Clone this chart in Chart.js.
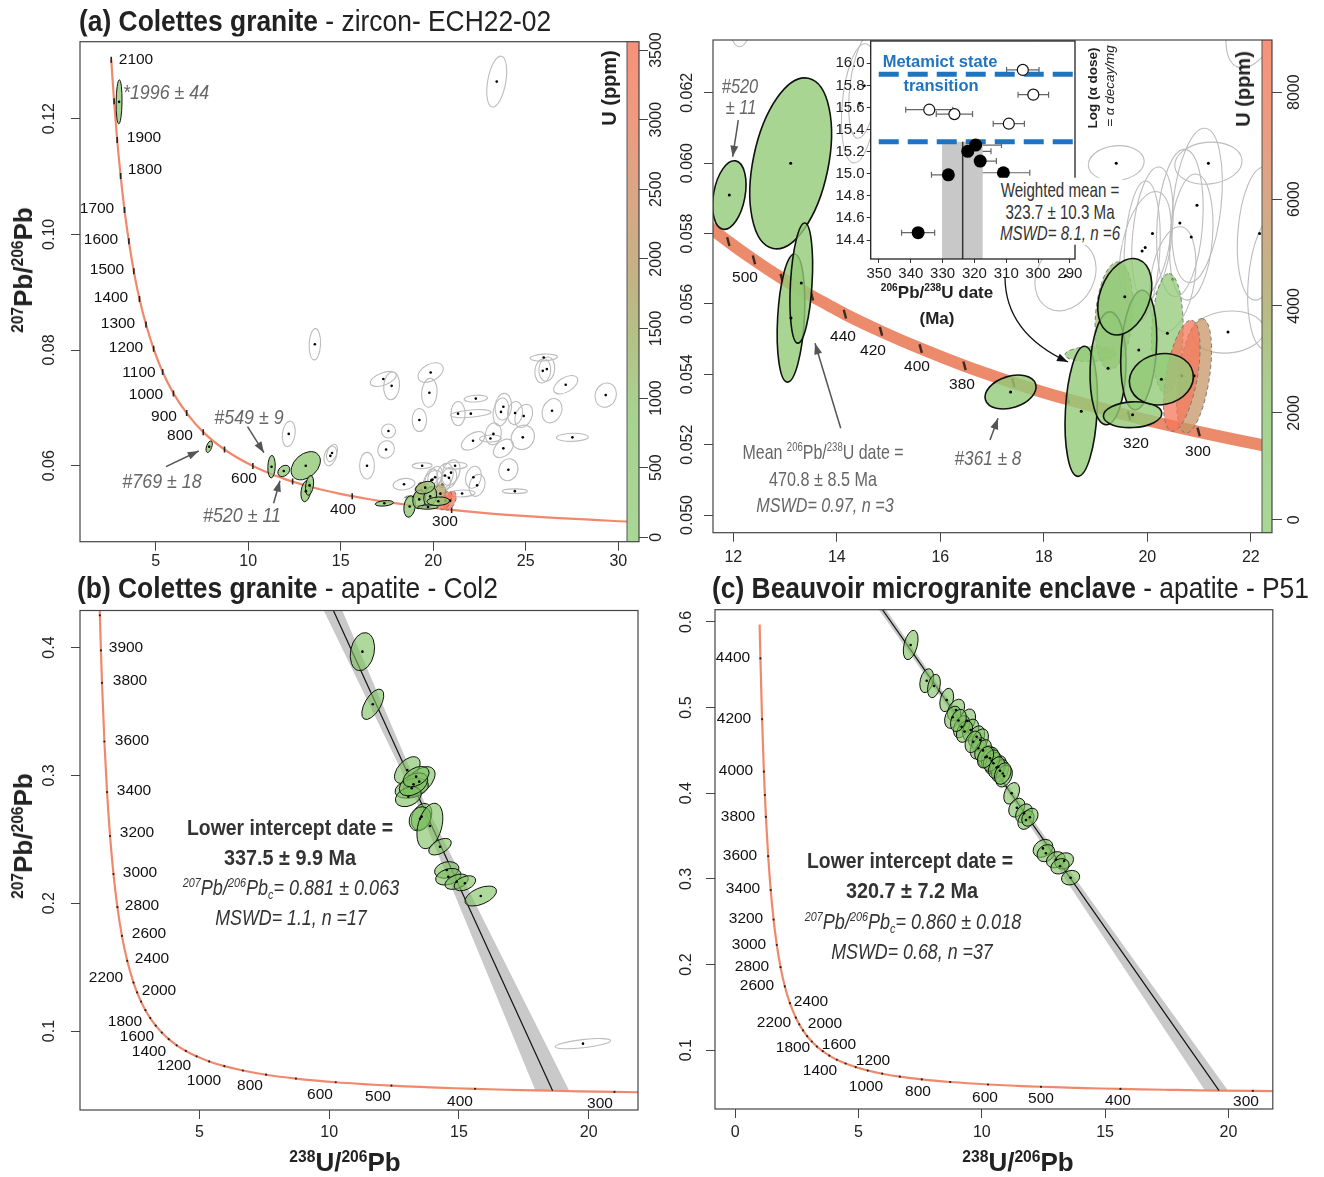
<!DOCTYPE html>
<html>
<head>
<meta charset="utf-8">
<title>U-Pb Tera-Wasserburg diagrams</title>
<script src="https://cdn.jsdelivr.net/npm/chart.js@4.4.1/dist/chart.umd.min.js"></script>
<style>
  body { margin: 0; background: #fff; }
  #page { position: relative; width: 1324px; height: 1177px; overflow: hidden; background: #fff;
          font-family: "Liberation Sans", Arial, sans-serif; color: #1a1a1a; }
  canvas { position: absolute; left: 0; top: 0; }
  .t { position: absolute; white-space: nowrap; line-height: 1; transform: translate(-50%, -50%); }
  .lt { transform: translate(0, -50%); }
  .rot { transform: translate(-50%, -50%) rotate(-90deg); }
  /* condensed look: Liberation Sans squeezed horizontally */
  .t.narrow { transform: translate(-50%, -50%) scaleX(var(--k, 0.85)); }
  .t.lt.narrow { transform-origin: 0 50%; transform: translate(0, -50%) scaleX(var(--k, 0.85)); }
  .title { font-size: 29px; color: #222; --k: 0.91; }
  .age { font-size: 15.5px; color: #111; }
  .note { font-size: 21px; color: #666; }
  .it { font-style: italic; }
  .axt { font-size: 26px; font-weight: bold; color: #222; }
  .cbt { font-size: 20px; font-weight: bold; color: #222; }
  .li { font-size: 22px; color: #333; }
  .wm { font-size: 21px; color: #333; background: #fff; line-height: 21.5px; text-align: center; padding: 1px 3px; --k: 0.72; }
  .meta { font-size: 16.5px; font-weight: bold; color: #1f74c2; }
  .ilab { font-size: 17px; font-weight: bold; color: #222; }
  .dose { font-size: 13.5px; color: #222; }
  sup { font-size: 0.6em; vertical-align: 0.6em; line-height: 0; }
  sub { font-size: 0.6em; vertical-align: -0.3em; line-height: 0; }
</style>
</head>
<body>
<div id="page">
<canvas id="cA" width="1324" height="1177"></canvas>
<canvas id="cZ" width="1324" height="1177"></canvas>
<canvas id="cB" width="1324" height="1177"></canvas>
<canvas id="cC" width="1324" height="1177"></canvas>
<canvas id="cI" width="1324" height="1177"></canvas>

<!-- panel titles -->
<div class="t lt narrow title" style="left:79px;top:21px"><b>(a) Colettes granite</b> - zircon- ECH22-02</div>
<div class="t lt narrow title" style="left:77px;top:588px"><b>(b) Colettes granite</b> - apatite - Col2</div>
<div class="t lt narrow title" style="left:712px;top:588px"><b>(c) Beauvoir microgranite enclave</b> - apatite - P51</div>

<!-- axis titles -->
<div class="t rot axt" style="left:23px;top:270px"><sup>207</sup>Pb/<sup>206</sup>Pb</div>
<div class="t rot axt" style="left:23px;top:836px"><sup>207</sup>Pb/<sup>206</sup>Pb</div>
<div class="t axt" style="left:345px;top:1162px"><sup>238</sup>U/<sup>206</sup>Pb</div>
<div class="t axt" style="left:1018px;top:1162px"><sup>238</sup>U/<sup>206</sup>Pb</div>
<div class="t rot cbt" style="left:609px;top:88px">U (ppm)</div>
<div class="t rot cbt" style="left:1243px;top:89px">U (ppm)</div>

<!-- concordia ages, panel a -->
<div class="t age" style="left:136px;top:59px">2100</div>
<div class="t age" style="left:144px;top:137px">1900</div>
<div class="t age" style="left:145px;top:169px">1800</div>
<div class="t age" style="left:97px;top:208px">1700</div>
<div class="t age" style="left:101px;top:239px">1600</div>
<div class="t age" style="left:107px;top:269px">1500</div>
<div class="t age" style="left:111px;top:297px">1400</div>
<div class="t age" style="left:118px;top:323px">1300</div>
<div class="t age" style="left:126px;top:347px">1200</div>
<div class="t age" style="left:139px;top:372px">1100</div>
<div class="t age" style="left:146px;top:394px">1000</div>
<div class="t age" style="left:164px;top:416px">900</div>
<div class="t age" style="left:180px;top:435px">800</div>
<div class="t age" style="left:244px;top:478px">600</div>
<div class="t age" style="left:343px;top:509px">400</div>
<div class="t age" style="left:445px;top:521px">300</div>

<!-- panel a notes -->
<div class="t lt narrow note it" style="left:123px;top:91px">*1996 ± 44</div>
<div class="t narrow note it" style="left:162px;top:480px">#769 ± 18</div>
<div class="t narrow note it" style="left:249px;top:416px">#549 ± 9</div>
<div class="t narrow note it" style="left:242px;top:514px">#520 ± 11</div>

<!-- concordia ages, zoom panel -->
<div class="t age" style="left:745px;top:277px">500</div>
<div class="t age" style="left:843px;top:336px">440</div>
<div class="t age" style="left:873px;top:350px">420</div>
<div class="t age" style="left:917px;top:366px">400</div>
<div class="t age" style="left:962px;top:384px">380</div>
<div class="t age" style="left:1136px;top:443px">320</div>
<div class="t age" style="left:1198px;top:451px">300</div>

<!-- zoom panel notes -->
<div class="t narrow note it" style="left:740px;top:85px;--k:0.78">#520</div>
<div class="t narrow note it" style="left:741px;top:106px;--k:0.78">± 11</div>
<div class="t narrow note" style="left:823px;top:451px;--k:0.76">Mean <sup>206</sup>Pb/<sup>238</sup>U date =</div>
<div class="t narrow note" style="left:823px;top:478px;--k:0.77">470.8 ± 8.5 Ma</div>
<div class="t narrow note it" style="left:825px;top:504px;--k:0.77">MSWD= 0.97, n =3</div>
<div class="t narrow note it" style="left:988px;top:457px;--k:0.82">#361 ± 8</div>
<div class="t narrow wm" style="left:1060px;top:211px">Weighted mean =<br>323.7 ± 10.3 Ma<br><i>MSWD= 8.1, n =6</i></div>

<!-- inset labels -->
<div class="t meta" style="left:940px;top:61px">Metamict state</div>
<div class="t meta" style="left:941px;top:85px">transition</div>
<div class="t ilab" style="left:937px;top:292px"><sup>206</sup>Pb/<sup>238</sup>U date</div>
<div class="t ilab" style="left:937px;top:318px">(Ma)</div>
<div class="t rot dose" style="left:1093px;top:88px"><b>Log (α dose)</b></div>
<div class="t rot dose it" style="left:1110px;top:86px">= α decay/mg</div>

<!-- concordia ages, panel b -->
<div class="t age" style="left:126px;top:647px">3900</div>
<div class="t age" style="left:130px;top:680px">3800</div>
<div class="t age" style="left:132px;top:740px">3600</div>
<div class="t age" style="left:134px;top:790px">3400</div>
<div class="t age" style="left:137px;top:832px">3200</div>
<div class="t age" style="left:140px;top:872px">3000</div>
<div class="t age" style="left:142px;top:905px">2800</div>
<div class="t age" style="left:149px;top:933px">2600</div>
<div class="t age" style="left:152px;top:958px">2400</div>
<div class="t age" style="left:106px;top:977px">2200</div>
<div class="t age" style="left:159px;top:990px">2000</div>
<div class="t age" style="left:125px;top:1021px">1800</div>
<div class="t age" style="left:137px;top:1036px">1600</div>
<div class="t age" style="left:149px;top:1051px">1400</div>
<div class="t age" style="left:174px;top:1065px">1200</div>
<div class="t age" style="left:204px;top:1080px">1000</div>
<div class="t age" style="left:250px;top:1085px">800</div>
<div class="t age" style="left:320px;top:1094px">600</div>
<div class="t age" style="left:378px;top:1096px">500</div>
<div class="t age" style="left:460px;top:1101px">400</div>
<div class="t age" style="left:600px;top:1103px">300</div>

<div class="t narrow li" style="left:290px;top:828px;--k:0.88"><b>Lower intercept date =</b></div>
<div class="t narrow li" style="left:290px;top:858px;--k:0.9"><b>337.5 ± 9.9 Ma</b></div>
<div class="t narrow li it" style="left:291px;top:888px;--k:0.82"><sup>207</sup>Pb/<sup>206</sup>Pb<sub>c</sub>= 0.881 ± 0.063</div>
<div class="t narrow li it" style="left:291px;top:918px;--k:0.81">MSWD= 1.1, n =17</div>

<!-- concordia ages, panel c -->
<div class="t age" style="left:733px;top:657px">4400</div>
<div class="t age" style="left:734px;top:718px">4200</div>
<div class="t age" style="left:736px;top:770px">4000</div>
<div class="t age" style="left:738px;top:816px">3800</div>
<div class="t age" style="left:740px;top:855px">3600</div>
<div class="t age" style="left:743px;top:888px">3400</div>
<div class="t age" style="left:746px;top:918px">3200</div>
<div class="t age" style="left:749px;top:944px">3000</div>
<div class="t age" style="left:752px;top:966px">2800</div>
<div class="t age" style="left:757px;top:985px">2600</div>
<div class="t age" style="left:811px;top:1001px">2400</div>
<div class="t age" style="left:774px;top:1022px">2200</div>
<div class="t age" style="left:825px;top:1023px">2000</div>
<div class="t age" style="left:793px;top:1047px">1800</div>
<div class="t age" style="left:839px;top:1044px">1600</div>
<div class="t age" style="left:820px;top:1070px">1400</div>
<div class="t age" style="left:873px;top:1060px">1200</div>
<div class="t age" style="left:866px;top:1086px">1000</div>
<div class="t age" style="left:918px;top:1091px">800</div>
<div class="t age" style="left:985px;top:1097px">600</div>
<div class="t age" style="left:1041px;top:1098px">500</div>
<div class="t age" style="left:1118px;top:1100px">400</div>
<div class="t age" style="left:1246px;top:1101px">300</div>

<div class="t narrow li" style="left:910px;top:861px;--k:0.88"><b>Lower intercept date =</b></div>
<div class="t narrow li" style="left:912px;top:891px;--k:0.9"><b>320.7 ± 7.2 Ma</b></div>
<div class="t narrow li it" style="left:913px;top:922px;--k:0.82"><sup>207</sup>Pb/<sup>206</sup>Pb<sub>c</sub>= 0.860 ± 0.018</div>
<div class="t narrow li it" style="left:912px;top:952px;--k:0.81">MSWD= 0.68, n =37</div>
</div>

<script>
const W = 1324, H = 1177;
const FONT = '"Liberation Sans", Arial, sans-serif';

// Tera-Wasserburg concordia: age (Ma), 238U/206Pb, 207Pb/206Pb
const conAge = [4500, 4400, 4200, 4000, 3900, 3800, 3600, 3400, 3200, 3000, 2800, 2600, 2400, 2200, 2100, 2000, 1900, 1800, 1700, 1600, 1500, 1400, 1300, 1200, 1100, 1000, 900, 800, 700, 600, 540, 520, 500, 480, 460, 450, 440, 420, 400, 380, 360, 350, 340, 320, 300, 280, 250, 200];
const conX = [0.9902, 1.0215, 1.0888, 1.1630, 1.2030, 1.2453, 1.3370, 1.4398, 1.5557, 1.6874, 1.8384, 2.0129, 2.2170, 2.4586, 2.5968, 2.7490, 2.9174, 3.1046, 3.3140, 3.5497, 3.8170, 4.1226, 4.4756, 4.8875, 5.3746, 5.9593, 6.6743, 7.5684, 8.7182, 10.252, 11.445, 11.904, 12.399, 12.936, 13.520, 13.831, 14.157, 14.854, 15.621, 16.469, 17.411, 17.923, 18.464, 19.649, 20.992, 22.527, 25.289, 31.734];
const conY = [0.5970, 0.5574, 0.4865, 0.4252, 0.3978, 0.3723, 0.3265, 0.2869, 0.2525, 0.2228, 0.1969, 0.1744, 0.1549, 0.1379, 0.1302, 0.1230, 0.1163, 0.1101, 0.1042, 0.0988, 0.0936, 0.0888, 0.0844, 0.0802, 0.0762, 0.0725, 0.0691, 0.0658, 0.0628, 0.05993, 0.05830, 0.05777, 0.05725, 0.05673, 0.05622, 0.05597, 0.05571, 0.05522, 0.05473, 0.05424, 0.05376, 0.05352, 0.05329, 0.05282, 0.05236, 0.05190, 0.05123, 0.05013];

// zircon ECH22-02, concordant analyses (half extents, correlation, U ppm)
const zrnX = [3.02, 7.89, 11.26, 11.923, 13.109, 13.115, 13.314, 17.358, 18.724, 19.242, 19.835, 19.565, 19.716, 20.272];
const zrnY = [0.1229, 0.06328, 0.05983, 0.059093, 0.059994, 0.055598, 0.056593, 0.053495, 0.052947, 0.054169, 0.054689, 0.056204, 0.052850, 0.053859];
const zrnSx = [0.16, 0.17, 0.20, 0.323, 0.789, 0.267, 0.219, 0.493, 0.313, 0.348, 0.348, 0.522, 0.564, 0.618];
const zrnSy = [0.0038, 0.0010, 0.00195, 0.00098, 0.002438, 0.001828, 0.001714, 0.000483, 0.001856, 0.00161, 0.001705, 0.001089, 0.000369, 0.000733];
const zrnRho = [0.1, 0.5, 0.1, 0.3, 0.35, 0.25, 0.3, 0.3, 0.2, 0.1, 0.2, 0.3, 0.1, 0.1];
const zrnU = [400, 300, 450, 600, 700, 700, 800, 500, 900, 900, 1000, 1000, 800, 900];

// zircon, analyses left out of the mean (dashed)
const excX = [18.908, 19.358, 20.388, 20.904, 20.666];
const excY = [0.054575, 0.055664, 0.055163, 0.053958, 0.053956];
const excSx = [0.499, 0.367, 0.305, 0.338, 0.354];
const excSy = [0.000213, 0.001535, 0.001705, 0.001634, 0.001586];
const excRho = [0.1, 0.2, 0.1, 0.45, 0.5];
const excU = [1200, 2700, 1800, 5500, 8800];

// zircon, discordant analyses (grey)
const disX = [23.43, 13.60, 12.19, 14.44, 14.53, 16.42, 17.45, 17.58, 17.30, 17.75, 19.86, 19.79, 19.25, 22.30, 21.34, 22.03, 23.66, 23.79, 24.42, 24.89, 26.42, 27.16, 29.32, 25.97, 25.92, 26.14, 27.52, 24.84, 23.79, 23.25, 23.09, 22.15, 24.06, 24.41, 22.17, 22.37, 21.56, 18.42, 19.40, 21.18, 20.96, 20.63, 20.10, 20.85, 19.96, 19.90, 20.49];
const disY = [0.1264, 0.0810, 0.0655, 0.0617, 0.0622, 0.0600, 0.0628, 0.0660, 0.0750, 0.0738, 0.0761, 0.0726, 0.0679, 0.0716, 0.0690, 0.0690, 0.0693, 0.0702, 0.0691, 0.0686, 0.0695, 0.0740, 0.0722, 0.0787, 0.0764, 0.0767, 0.0649, 0.0649, 0.0630, 0.0655, 0.0647, 0.0643, 0.0593, 0.0556, 0.0580, 0.0566, 0.0552, 0.0568, 0.0600, 0.0600, 0.0588, 0.0583, 0.0580, 0.0579, 0.0576, 0.0575, 0.0567];
const disSx = [0.54, 0.31, 0.35, 0.35, 0.30, 0.40, 0.45, 0.38, 0.70, 0.43, 0.68, 0.42, 0.39, 0.63, 0.38, 1.10, 0.43, 0.45, 0.41, 0.48, 0.54, 0.65, 0.58, 0.74, 0.43, 0.43, 0.86, 0.63, 0.54, 0.43, 0.59, 0.63, 0.52, 0.68, 0.43, 0.43, 0.70, 0.59, 0.54, 0.65, 0.49, 0.45, 0.40, 0.42, 0.50, 0.35, 0.45];
const disSy = [0.0044, 0.0027, 0.0022, 0.0017, 0.0015, 0.0023, 0.0015, 0.0012, 0.0013, 0.0024, 0.0017, 0.0025, 0.0020, 0.0006, 0.0021, 0.0007, 0.0024, 0.0023, 0.0020, 0.0020, 0.0021, 0.0016, 0.0021, 0.0006, 0.0021, 0.0021, 0.0007, 0.0021, 0.0016, 0.0019, 0.0006, 0.0016, 0.0019, 0.0004, 0.0019, 0.0019, 0.0006, 0.0010, 0.0005, 0.0006, 0.0022, 0.0021, 0.0019, 0.0018, 0.0016, 0.0020, 0.0015];
const disRho = [0.4, 0.1, 0.2, 0.3, 0.4, 0.0, 0.1, 0.0, 0.5, 0.1, 0.4, 0.1, 0.0, 0.2, 0.0, 0.4, 0.2, 0.1, 0.1, 0.3, 0.2, 0.5, 0.1, 0.2, 0.1, 0.1, 0.1, 0.1, 0.4, 0.1, 0.1, 0.5, 0.1, 0.0, 0.2, 0.2, 0.1, 0.2, 0.1, 0.1, 0.3, 0.2, 0.3, 0.2, 0.4, 0.2, 0.3];

// inset: 206Pb/238U date vs log alpha dose
const wmDate = [304.8, 301.5, 334.2, 326.3, 309.2, 319.6, 322.1, 318.2, 328.2, 310.9, 337.7];
const wmErr = [5.1, 4.8, 7.4, 5.7, 4.9, 8.1, 7.3, 5.1, 5.3, 8.3, 5.2];
const wmDose = [15.94, 15.716, 15.58, 15.54, 15.453, 15.26, 15.203, 15.115, 14.99, 15.009, 14.466];
const wmOpen = [1, 1, 1, 1, 1, 0, 0, 0, 0, 0, 0];
const wmMean = 323.7;
const wmBand = [317.4, 330.2];
const metamictDose = [15.9, 15.29];

// apatite Col2
const colX = [11.28, 11.68, 13.01, 13.47, 13.18, 13.05, 13.25, 13.35, 13.56, 13.50, 13.88, 14.27, 14.53, 14.59, 14.91, 15.23, 15.84];
const colY = [0.3968, 0.3556, 0.3042, 0.2951, 0.2899, 0.2833, 0.2930, 0.2990, 0.2677, 0.2660, 0.2604, 0.2442, 0.2260, 0.2207, 0.2168, 0.2156, 0.2056];
const colSx = [0.47, 0.424, 0.493, 0.609, 0.644, 0.50, 0.55, 0.50, 0.397, 0.42, 0.50, 0.435, 0.47, 0.49, 0.45, 0.416, 0.609];
const colSy = [0.0149, 0.0119, 0.0104, 0.0117, 0.0078, 0.0078, 0.009, 0.008, 0.0104, 0.0095, 0.0178, 0.0065, 0.0065, 0.0065, 0.006, 0.0059, 0.0078];
const colRho = [0.2, 0.6, 0.5, 0.5, 0.3, 0.3, 0.4, 0.4, 0.3, 0.2, 0.35, 0.5, 0.2, 0.3, 0.4, 0.4, 0.5];
const colOutX = [19.78], colOutY = [0.0901], colOutSx = [1.07], colOutSy = [0.004], colOutRho = [0.6];
const colFitX = [0, 18.61], colFitY = [0.881, 0.05323];
const colBandX = [9.05, 13.35, 17.95, 19.25, 13.65, 9.85], colBandY = [0.46, 0.28, 0.0532, 0.0532, 0.28, 0.46];

// apatite P51
const p51X = [7.115, 7.765, 8.06, 8.576, 8.953, 8.82, 9.41, 9.18, 9.55, 9.79, 9.93, 9.86, 10.2, 10.33, 10.47, 10.67, 10.74, 9.30, 9.05, 10.05, 10.40, 10.60, 10.90, 10.15, 11.21, 11.42, 11.71, 11.79, 11.95, 12.48, 12.60, 13.00, 13.34, 13.17, 13.60, 9.65, 10.85];
const p51Y = [0.5731, 0.5314, 0.5252, 0.5089, 0.4972, 0.4887, 0.4847, 0.4777, 0.4738, 0.4660, 0.4622, 0.4525, 0.4427, 0.4408, 0.4350, 0.4310, 0.4263, 0.4720, 0.4850, 0.4500, 0.4380, 0.4300, 0.4200, 0.4420, 0.3999, 0.3831, 0.3766, 0.3688, 0.3720, 0.3356, 0.3300, 0.3223, 0.3210, 0.3147, 0.3014, 0.4600, 0.4230];
const p51Sx = [0.30, 0.28, 0.26, 0.28, 0.35, 0.33, 0.34, 0.33, 0.33, 0.33, 0.34, 0.33, 0.34, 0.35, 0.34, 0.33, 0.35, 0.33, 0.32, 0.34, 0.34, 0.33, 0.34, 0.33, 0.32, 0.33, 0.34, 0.33, 0.33, 0.40, 0.36, 0.38, 0.38, 0.37, 0.37, 0.33, 0.34];
const p51Sy = [0.0172, 0.0140, 0.0137, 0.0137, 0.0126, 0.0130, 0.0137, 0.0130, 0.0128, 0.0128, 0.0130, 0.0126, 0.0130, 0.0128, 0.0126, 0.0126, 0.0130, 0.0126, 0.0130, 0.0126, 0.0126, 0.0126, 0.0128, 0.0126, 0.0126, 0.0110, 0.0110, 0.0110, 0.0105, 0.0105, 0.0100, 0.0095, 0.0095, 0.0090, 0.0085, 0.0126, 0.0126];
const p51Rho = [0.4, 0.3, 0.3, 0.3, 0.35, 0.3, 0.3, 0.35, 0.3, 0.3, 0.35, 0.3, 0.3, 0.3, 0.35, 0.3, 0.3, 0.3, 0.3, 0.35, 0.3, 0.3, 0.3, 0.3, 0.35, 0.3, 0.3, 0.3, 0.3, 0.25, 0.2, 0.2, 0.2, 0.2, 0.15, 0.3, 0.3];
const p51FitX = [0, 19.62], p51FitY = [0.860, 0.0528];
const p51BandX = [4.95, 11.08, 19.05, 19.98, 11.30, 5.25], p51BandY = [0.65, 0.40, 0.0528, 0.0528, 0.40, 0.65];

// tick values
const ticksAx = [5, 10, 15, 20, 25, 30], ticksAy = [0.06, 0.08, 0.10, 0.12], ticksAu = [0, 500, 1000, 1500, 2000, 2500, 3000, 3500];
const ticksZx = [12, 14, 16, 18, 20, 22], ticksZy = [0.050, 0.052, 0.054, 0.056, 0.058, 0.060, 0.062], ticksZu = [0, 2000, 4000, 6000, 8000];
const ticksBx = [5, 10, 15, 20], ticksBy = [0.1, 0.2, 0.3, 0.4];
const ticksCx = [0, 5, 10, 15, 20], ticksCy = [0.1, 0.2, 0.3, 0.4, 0.5, 0.6];
const ticksIx = [290, 300, 310, 320, 330, 340, 350], ticksIy = [14.4, 14.6, 14.8, 15.0, 15.2, 15.4, 15.6, 15.8, 16.0];

// U colour scale, green (low U) to salmon (high U)
const CMAP = [[0, [148, 205, 122]], [0.25, [145, 200, 118]], [0.40, [160, 178, 105]], [0.52, [178, 160, 102]], [0.67, [205, 146, 104]], [0.85, [236, 128, 96]], [1, [246, 118, 88]]];
function cmap(f) {
  f = Math.max(0, Math.min(1, f));
  for (let i = 1; i < CMAP.length; i++) {
    if (f <= CMAP[i][0]) {
      const f0 = CMAP[i - 1][0], c0 = CMAP[i - 1][1], f1 = CMAP[i][0], c1 = CMAP[i][1];
      const k = (f - f0) / (f1 - f0);
      return c0.map((v, j) => Math.round(v + k * (c1[j] - v)));
    }
  }
  return CMAP[CMAP.length - 1][1];
}
function rgba(c, a) { return 'rgba(' + c[0] + ',' + c[1] + ',' + c[2] + ',' + a + ')'; }

function ells(X, Y, SX, SY, R, U) {
  return X.map((x, i) => ({ x: x, y: Y[i], sx: SX[i], sy: SY[i], rho: R[i], u: U ? U[i] : 0 }));
}
function pts(X, Y) { return X.map((x, i) => ({ x: x, y: Y[i] })); }

Chart.defaults.font.family = FONT;
Chart.defaults.color = '#222';

// error ellipses, drawn just before the dataset holding their centres
const ellPlugin = {
  id: 'ell',
  beforeDatasetDraw(chart, args) {
    const ds = chart.data.datasets[args.index];
    if (!ds.ell) return;
    const ctx = chart.ctx, a = chart.chartArea;
    const sx = chart.scales.x, sy = chart.scales.y, su = chart.scales.u;
    const kx = Math.abs(sx.getPixelForValue(1) - sx.getPixelForValue(0));
    const ky = Math.abs(sy.getPixelForValue(1) - sy.getPixelForValue(0));
    ctx.save();
    ctx.beginPath();
    ctx.rect(a.left, a.top, a.right - a.left, a.bottom - a.top);
    ctx.clip();
    ds.ell.forEach(e => {
      const cx = sx.getPixelForValue(e.x), cy = sy.getPixelForValue(e.y);
      const ax = e.sx * kx, ay = e.sy * ky, c = -e.rho * ax * ay;
      const A = ax * ax, C = ay * ay, m = (A + C) / 2;
      const d = Math.sqrt(((A - C) / 2) ** 2 + c * c);
      const r1 = Math.sqrt(m + d), r2 = Math.sqrt(Math.max(m - d, 0.25));
      const th = 0.5 * Math.atan2(2 * c, A - C);
      ctx.beginPath();
      ctx.ellipse(cx, cy, r1, r2, th, 0, Math.PI * 2);
      if (ds.ellFill === 'u' && su) {
        ctx.fillStyle = rgba(cmap((e.u - su.min) / (su.max - su.min)), ds.ellAlpha);
        ctx.fill();
      } else if (ds.ellFill) {
        ctx.fillStyle = ds.ellFill;
        ctx.fill();
      }
      ctx.setLineDash(ds.ellDash || []);
      ctx.lineWidth = ds.ellWidth;
      ctx.strokeStyle = ds.ellStroke;
      ctx.stroke();
    });
    ctx.restore();
  }
};

// white plot background (inset)
const bgPlugin = {
  id: 'bg',
  beforeDraw(chart, args, opts) {
    if (!opts.on) return;
    const a = chart.chartArea, ctx = chart.ctx;
    ctx.save();
    ctx.fillStyle = '#fff';
    ctx.fillRect(a.left, a.top, a.right - a.left, a.bottom - a.top);
    ctx.restore();
  }
};

// horizontal error bars for the inset
const errPlugin = {
  id: 'errs',
  beforeDatasetsDraw(chart, args, opts) {
    if (!opts.show) return;
    const ctx = chart.ctx, sx = chart.scales.x, sy = chart.scales.y;
    ctx.save();
    ctx.strokeStyle = '#666';
    ctx.lineWidth = 1.2;
    wmDate.forEach((d, i) => {
      const y = sy.getPixelForValue(wmDose[i]);
      const x0 = sx.getPixelForValue(d - wmErr[i]), x1 = sx.getPixelForValue(d + wmErr[i]);
      ctx.beginPath();
      ctx.moveTo(x0, y); ctx.lineTo(x1, y);
      ctx.moveTo(x0, y - 3); ctx.lineTo(x0, y + 3);
      ctx.moveTo(x1, y - 3); ctx.lineTo(x1, y + 3);
      ctx.stroke();
    });
    ctx.restore();
  }
};

// U colour bar along the right edge of the plot
const barPlugin = {
  id: 'cbar',
  afterDatasetsDraw(chart, args, opts) {
    if (!opts.w) return;
    const ctx = chart.ctx, a = chart.chartArea;
    const g = ctx.createLinearGradient(0, a.bottom, 0, a.top);
    CMAP.forEach(s => g.addColorStop(s[0], rgba(s[1], 0.8)));
    ctx.save();
    ctx.fillStyle = '#fff';
    ctx.fillRect(a.right - opts.w, a.top, opts.w, a.bottom - a.top);
    ctx.fillStyle = g;
    ctx.fillRect(a.right - opts.w, a.top, opts.w, a.bottom - a.top);
    ctx.strokeStyle = '#555';
    ctx.lineWidth = 1;
    ctx.beginPath();
    ctx.moveTo(a.right - opts.w, a.top);
    ctx.lineTo(a.right - opts.w, a.bottom);
    ctx.stroke();
    ctx.restore();
  }
};

// full frame around the plot
const boxPlugin = {
  id: 'box',
  afterDatasetsDraw(chart, args, opts) {
    if (!opts.width) return;
    const a = chart.chartArea, ctx = chart.ctx;
    ctx.save();
    ctx.strokeStyle = opts.color;
    ctx.lineWidth = opts.width;
    ctx.strokeRect(a.left, a.top, a.right - a.left, a.bottom - a.top);
    ctx.restore();
  }
};

// annotation arrows, anchored in data units
const arrowPlugin = {
  id: 'arrows',
  afterDatasetsDraw(chart, args, opts) {
    if (!opts.list) return;
    const ctx = chart.ctx, sx = chart.scales.x, sy = chart.scales.y;
    opts.list.forEach(a => {
      const p0 = [sx.getPixelForValue(a.from[0]), sy.getPixelForValue(a.from[1])];
      const p1 = [sx.getPixelForValue(a.to[0]), sy.getPixelForValue(a.to[1])];
      ctx.save();
      ctx.strokeStyle = a.color;
      ctx.fillStyle = a.color;
      ctx.lineWidth = a.width;
      ctx.beginPath();
      ctx.moveTo(p0[0], p0[1]);
      let dx, dy;
      if (a.via) {
        const c = [sx.getPixelForValue(a.via[0]), sy.getPixelForValue(a.via[1])];
        ctx.quadraticCurveTo(c[0], c[1], p1[0], p1[1]);
        dx = p1[0] - c[0]; dy = p1[1] - c[1];
      } else {
        ctx.lineTo(p1[0], p1[1]);
        dx = p1[0] - p0[0]; dy = p1[1] - p0[1];
      }
      ctx.stroke();
      const ang = Math.atan2(dy, dx), L = 11, hw = 4;
      const bx = p1[0] - L * Math.cos(ang), by = p1[1] - L * Math.sin(ang);
      ctx.beginPath();
      ctx.moveTo(p1[0], p1[1]);
      ctx.lineTo(bx + hw * Math.sin(ang), by - hw * Math.cos(ang));
      ctx.lineTo(bx - hw * Math.sin(ang), by + hw * Math.cos(ang));
      ctx.closePath();
      ctx.fill();
      ctx.restore();
    });
  }
};

// tick labels written along the vertical axes (R style)
const rotPlugin = {
  id: 'rot',
  afterDraw(chart, args, opts) {
    if (!opts.axes) return;
    const ctx = chart.ctx, a = chart.chartArea;
    opts.axes.forEach(ax => {
      const s = chart.scales[ax.id];
      ctx.save();
      ctx.font = '16px ' + FONT;
      ctx.fillStyle = '#222';
      ctx.textAlign = 'center';
      ctx.textBaseline = 'middle';
      s.ticks.forEach(t => {
        const y = s.getPixelForValue(t.value);
        const x = ax.side === 'left' ? a.left - ax.off : a.right + ax.off;
        ctx.save();
        ctx.translate(x, y);
        ctx.rotate(-Math.PI / 2);
        ctx.fillText(t.value.toFixed(ax.digits), 0, 0);
        ctx.restore();
      });
      ctx.restore();
    });
  }
};

const PLUGINS = [bgPlugin, ellPlugin, errPlugin, barPlugin, boxPlugin, arrowPlugin, rotPlugin];

function ticksAt(vals) { return s => { s.ticks = vals.map(v => ({ value: v })); }; }

function conLine(maxAge, color, width) {
  const p = [];
  conAge.forEach((a, i) => { if (a <= maxAge) p.push({ x: conX[i], y: conY[i] }); });
  p.sort((q, r) => q.x - r.x);
  return { data: p, showLine: true, pointRadius: 0, borderColor: color, borderWidth: width,
           borderCapStyle: 'butt', cubicInterpolationMode: 'monotone', clip: 0, order: 20 };
}
function conTicks(test, style) {
  const p = [];
  conAge.forEach((a, i) => { if (test(a)) p.push({ x: conX[i], y: conY[i] }); });
  return Object.assign({ data: p, showLine: false, clip: 0, order: 19 }, style);
}
function ellSet(list, style, order, dot) {
  return Object.assign({ data: list.map(e => ({ x: e.x, y: e.y })), ell: list, showLine: false,
    pointRadius: dot, pointBackgroundColor: '#000', pointBorderWidth: 0, clip: 0, order: order }, style);
}

function panel(id, p, datasets, extra) {
  const grid = { drawOnChartArea: false, tickLength: 9, color: '#444', lineWidth: 1 };
  const scales = {
    x: { type: 'linear', min: p.x[0], max: p.x[1], afterBuildTicks: ticksAt(p.xt),
         afterFit: s => { s.height = 40; },
         ticks: { font: { size: 16 }, color: '#222', padding: p.xpad, maxRotation: 0, autoSkip: false },
         grid: grid, border: { display: false } },
    y: { type: 'linear', min: p.y[0], max: p.y[1], afterBuildTicks: ticksAt(p.yt),
         afterFit: s => { s.width = 40; },
         ticks: { callback: () => '', padding: 0 },
         grid: grid, border: { display: false } }
  };
  if (p.u) {
    scales.u = { axis: 'y', type: 'linear', position: 'right', min: p.u[0], max: p.u[1],
      afterBuildTicks: ticksAt(p.ut), afterFit: s => { s.width = 40; },
      ticks: { callback: () => '', padding: 0 },
      grid: { drawOnChartArea: false, tickLength: p.utl, color: '#444', lineWidth: 1 },
      border: { display: false } };
  }
  return new Chart(document.getElementById(id), {
    type: 'scatter',
    data: { datasets: datasets },
    options: {
      responsive: false, animation: false, events: [],
      layout: { padding: { left: p.l - 40, top: p.t, right: W - p.r - (p.u ? 40 : 0), bottom: H - p.b - 40 } },
      scales: scales,
      plugins: Object.assign({ legend: { display: false }, tooltip: { enabled: false }, colors: { enabled: false },
                               box: { color: '#444', width: 1.2 } }, extra)
    },
    plugins: PLUGINS
  });
}

const zrnSolid = ells(zrnX, zrnY, zrnSx, zrnSy, zrnRho, zrnU);
const zrnExcl = ells(excX, excY, excSx, excSy, excRho, excU);
const zrnDisc = ells(disX, disY, disSx, disSy, disRho, null);

function zirconSets(wSolid, dot) {
  return [
    ellSet(zrnSolid, { ellFill: 'u', ellAlpha: 0.8, ellStroke: '#111', ellWidth: wSolid }, 1, dot),
    ellSet(zrnExcl, { ellFill: 'u', ellAlpha: 0.75, ellStroke: '#777', ellWidth: 1, ellDash: [4, 3] }, 2, dot),
    ellSet(zrnDisc, { ellFill: null, ellStroke: '#bcbcbc', ellWidth: 1.1 }, 3, dot)
  ];
}

// (a) zircon, full view
panel('cA',
  { l: 80, t: 41.7, r: 639, b: 541.7, x: [0.908, 31.12], y: [0.04686, 0.1333], xt: ticksAx, yt: ticksAy, xpad: 1.5,
    u: [-32, 3560], ut: ticksAu, utl: 9 },
  [conLine(2100, '#f0896b', 2.2),
   conTicks(a => a % 100 === 0 && a >= 300 && a <= 2100,
     { pointStyle: 'line', pointRotation: 90, pointRadius: 3, pointBorderWidth: 1.6, pointBorderColor: '#222' })]
    .concat(zirconSets(1, 1.3)),
  { cbar: { w: 12 },
    rot: { axes: [{ id: 'y', side: 'left', off: 30, digits: 2 }, { id: 'u', side: 'right', off: 17.5, digits: 0 }] },
    arrows: { list: [
      { from: [5.557, 0.05983], to: [7.324, 0.06254], color: '#555', width: 1.5 },
      { from: [9.962, 0.06674], to: [10.849, 0.06225], color: '#555', width: 1.5 },
      { from: [11.373, 0.05350], to: [11.714, 0.05741], color: '#555', width: 1.5 }] } });

// (a) zircon, enlarged view
panel('cZ',
  { l: 713, t: 40, r: 1272, b: 532.7, x: [11.608, 22.41], y: [0.049497, 0.0635], xt: ticksZx, yt: ticksZy, xpad: 6.5,
    u: [-243, 8977], ut: ticksZu, utl: 10 },
  [conLine(4500, '#ec8a6c', 12),
   conTicks(a => a % 20 === 0 && a >= 300 && a <= 540,
     { pointStyle: 'line', pointRotation: 75, pointRadius: 4.5, pointBorderWidth: 2.4, pointBorderColor: '#3a2a22' })]
    .concat(zirconSets(1.6, 1.5)),
  { cbar: { w: 10 },
    rot: { axes: [{ id: 'y', side: 'left', off: 25, digits: 3 }, { id: 'u', side: 'right', off: 23, digits: 0 }] },
    arrows: { list: [
      { from: [12.097, 0.061225], to: [11.988, 0.060182], color: '#555', width: 1.5 },
      { from: [14.076, 0.052464], to: [13.579, 0.054879], color: '#555', width: 1.5 },
      { from: [16.961, 0.052131], to: [17.116, 0.052748], color: '#555', width: 1.5 },
      { from: [17.251, 0.056763], via: [17.251, 0.055172], to: [18.469, 0.054348], color: '#111', width: 1.3 }] } });

function apatiteSets(list, out, fitX, fitY, bandX, bandY) {
  const sets = [
    { data: pts(bandX, bandY), showLine: true, fill: 'shape', backgroundColor: '#c9c9c9', borderWidth: 0,
      pointRadius: 0, clip: 0, order: 30 },
    conLine(4500, '#f0896b', 2.2),
    conTicks(a => a % 100 === 0 && a >= 300 && a <= 4400,
      { pointStyle: 'circle', pointRadius: 1.1, pointBackgroundColor: '#222', pointBorderWidth: 0 }),
    { data: pts(fitX, fitY), showLine: true, borderColor: '#111', borderWidth: 1.2, pointRadius: 0, clip: 0, order: 5 },
    ellSet(list, { ellFill: 'rgba(125,192,95,0.62)', ellStroke: '#111', ellWidth: 1 }, 1, 1.3)
  ];
  if (out) sets.push(ellSet(out, { ellFill: null, ellStroke: '#bcbcbc', ellWidth: 1.1 }, 2, 1.3));
  return sets;
}

// (b) apatite Col2
panel('cB',
  { l: 80, t: 610.5, r: 638, b: 1110, x: [0.397, 21.9], y: [0.0382, 0.429], xt: ticksBx, yt: ticksBy, xpad: 3.5 },
  apatiteSets(ells(colX, colY, colSx, colSy, colRho, null), ells(colOutX, colOutY, colOutSx, colOutSy, colOutRho, null),
              colFitX, colFitY, colBandX, colBandY),
  { rot: { axes: [{ id: 'y', side: 'left', off: 30, digits: 1 }] } });

// (c) apatite P51
panel('cC',
  { l: 715, t: 609.7, r: 1272.8, b: 1109, x: [-0.82, 21.8], y: [0.0313, 0.6143], xt: ticksCx, yt: ticksCy, xpad: 4.5 },
  apatiteSets(ells(p51X, p51Y, p51Sx, p51Sy, p51Rho, null), null, p51FitX, p51FitY, p51BandX, p51BandY),
  { rot: { axes: [{ id: 'y', side: 'left', off: 28, digits: 1 }] } });

// inset: weighted mean of the concordant zircon dates
const openPts = [], fullPts = [];
wmDate.forEach((d, i) => (wmOpen[i] ? openPts : fullPts).push({ x: d, y: wmDose[i] }));
const insetGrid = { drawOnChartArea: false, tickLength: 4, color: '#333', lineWidth: 1 };
new Chart(document.getElementById('cI'), {
  type: 'scatter',
  data: { datasets: [
    { data: [{ x: wmBand[0], y: metamictDose[1] }, { x: wmBand[1], y: metamictDose[1] }, { x: wmBand[1], y: 14.0 }, { x: wmBand[0], y: 14.0 }],
      showLine: true, fill: 'shape', backgroundColor: '#c8c8c8', borderWidth: 0, pointRadius: 0, clip: 0, order: 10 },
    { data: [{ x: wmMean, y: metamictDose[1] }, { x: wmMean, y: 14.0 }], showLine: true, borderColor: '#333',
      borderWidth: 1.5, pointRadius: 0, clip: 0, order: 9 },
    { data: [{ x: 280, y: metamictDose[0] }, { x: 360, y: metamictDose[0] }], showLine: true, borderColor: '#1f74c2',
      borderWidth: 5, borderDash: [20, 9], pointRadius: 0, clip: 0, order: 8 },
    { data: [{ x: 280, y: metamictDose[1] }, { x: 360, y: metamictDose[1] }], showLine: true, borderColor: '#1f74c2',
      borderWidth: 5, borderDash: [20, 9], pointRadius: 0, clip: 0, order: 7 },
    { data: openPts, showLine: false, pointRadius: 5.5, pointBackgroundColor: '#fff', pointBorderColor: '#111',
      pointBorderWidth: 1.2, clip: 0, order: 2 },
    { data: fullPts, showLine: false, pointRadius: 6.5, pointBackgroundColor: '#000', pointBorderColor: '#000',
      pointBorderWidth: 0, clip: 0, order: 1 }
  ] },
  options: {
    responsive: false, animation: false, events: [],
    layout: { padding: { left: 870.7 - 40, top: 41, right: W - 1075, bottom: H - 259 - 30 } },
    scales: {
      x: { type: 'linear', reverse: true, min: 288.4, max: 352.6, afterBuildTicks: ticksAt(ticksIx),
           afterFit: s => { s.height = 30; },
           ticks: { font: { size: 15 }, color: '#222', padding: 1.5, maxRotation: 0, autoSkip: false },
           grid: insetGrid, border: { display: false } },
      y: { type: 'linear', min: 14.228, max: 16.202, afterBuildTicks: ticksAt(ticksIy),
           afterFit: s => { s.width = 40; },
           ticks: { font: { size: 15 }, color: '#222', padding: 2, callback: v => v.toFixed(1) },
           grid: insetGrid, border: { display: false } }
    },
    plugins: { legend: { display: false }, tooltip: { enabled: false }, colors: { enabled: false },
               bg: { on: true }, box: { color: '#222', width: 1.3 }, errs: { show: true } }
  },
  plugins: PLUGINS
});
</script>
</body>
</html>
